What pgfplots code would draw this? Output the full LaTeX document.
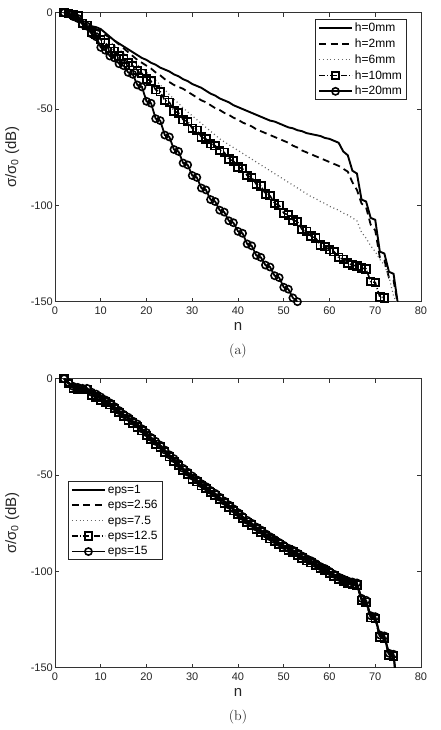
\documentclass[border=0pt]{standalone}
\usepackage{pgfplots}
\pgfplotsset{compat=1.18}
\usepackage{pgfplotstable}
\usepackage{fontspec}
\newfontfamily\lsans{Liberation Sans}
\newcommand\ticksfont{\lsans\fontsize{11}{13}\selectfont}
\newcommand\legfont{\lsans\fontsize{12}{14}\selectfont}
\newcommand\labfont{\lsans\fontsize{15}{17}\selectfont}

% (a) RCS decay versus mode number n for several heights h
\pgfplotstableread{
n   h0     h2     h6     h10    h20
2   0      0      0      0      0
3   -1     -1     -1     -0.5   -0.5
4   -2.5   -2.5   -2     -1     -2
5   -4     -4     -3.5   -1.5   -3
6   -5.5   -5.5   -5     -5.5   -6
7   -6.5   -6.5   -6.5   -6.5   -7
8   -7     -7.5   -8     -10    -11
9   -7.5   -8.5   -9.5   -11    -12.5
10  -8.5   -10    -11.5  -14    -18
11  -10.5  -11.5  -13.5  -15.5  -19.5
12  -12.5  -13    -15    -18.5  -22.5
13  -14.5  -14.5  -17    -20    -23.5
14  -16    -16.5  -19    -22.5  -26.5
15  -17.5  -18.5  -21    -24    -27.5
16  -19    -20.5  -23    -26    -31
17  -20.5  -22.5  -25    -27.5  -32
18  -22    -24.5  -27    -30    -37.5
19  -23.5  -26    -29    -31.5  -38.5
20  -24.5  -27.5  -31    -34.5  -46
21  -26    -29    -33    -35.5  -47
22  -27    -31    -35    -40    -55
23  -28.5  -32.5  -37.5  -41    -56
24  -29.5  -34.5  -40    -45.5  -63.5
25  -30.5  -36    -42.5  -46.5  -64.5
26  -32    -37.5  -45    -51    -71
27  -33    -38.5  -47    -52    -72
28  -34.5  -39.5  -49.5  -55.5  -78
29  -35.5  -41    -51.5  -56.5  -79
30  -37    -42.5  -53.5  -60    -84.5
31  -38    -44    -55.5  -61    -85.5
32  -39    -45.5  -57.5  -64.5  -91
33  -40.5  -46.5  -59.5  -65.5  -92
34  -42    -48    -61.5  -68    -97
35  -43    -49.5  -63.5  -69    -98
36  -44.5  -50.5  -65.5  -71.5  -102.5
37  -45.5  -52    -67    -72.5  -103.5
38  -46.5  -53    -68.5  -76    -108
39  -48    -54.5  -70    -77    -109
40  -49    -55.5  -71.5  -80    -113.5
41  -50    -57    -73    -81    -114.5
42  -51    -58    -74.5  -84.5  -120
43  -52    -59    -76    -85.5  -121
44  -53    -60.5  -77.5  -89    -126
45  -54    -61.5  -79    -90    -127
46  -55    -62.5  -80.5  -94    -131
47  -56    -63.5  -82    -95    -132
48  -56.5  -64.5  -83.5  -99    -136.5
49  -57.5  -65.5  -85    -100   -137.5
50  -58.5  -66.5  -86.5  -104   -142.5
51  -59.5  -67.5  -88    -105   -143.5
52  -60    -69    -89.5  -107.5 -148
53  -61    -70    -91    -108.5 -150
54  -61.5  -71.5  -92.5  -112.5 nan
55  -62.5  -72.5  -94    -113.5 nan
56  -63    -73.5  -95.5  -116   nan
57  -63.5  -74.5  -96.5  -117   nan
58  -64    -75.5  -98    -120.5 nan
59  -65    -76.5  -99    -121.5 nan
60  -65.5  -77.5  -100.5 -123   nan
61  -66.5  -78.5  -101.5 -124   nan
62  -67.5  -79.5  -102.5 -127   nan
63  -72    -81    -104   -128   nan
64  -74    -82.5  -105   -130   nan
65  -82    -88    -106.5 -131   nan
66  -83.5  -92    -108   -131.5 nan
67  -97    -99    -114   -132.5 nan
68  -98    -101   -117   -133   nan
69  -106.5 -110   -121   -139.5 nan
70  -107.5 -113   -124   -140   nan
71  -124   -127   -128   -147.5 nan
72  -125   -128.5 -131   -148   nan
73  -134.5 -137.5 -137   nan    nan
74  -135.5 -139   -147   nan    nan
75  -152   -152   -152   nan    nan
}\tabH

% (b) RCS decay versus mode number n for several permittivities
\pgfplotstableread{
n   e1     e2     e7     e12    e15
2   0      0      0      0      0
3   -2.5   -2.5   -2.0   -2.5   -2.0
4   -4.5   -4.5   -4.0   -5.0   -4.0
5   -5.0   -5.0   -5.0   -5.5   -4.5
6   -5.0   -5.5   -5.0   -5.5   -5.0
7   -5.0   -5.5   -5.0   -5.5   -5.0
8   -7.5   -8.0   -7.5   -8.5   -7.0
9   -8.5   -9.0   -8.5   -9.5   -8.0
10  -10.0  -10.5  -10.0  -11.0  -9.5
11  -11.5  -12.0  -11.5  -12.0  -11.0
12  -13.0  -13.5  -13.0  -13.5  -12.5
13  -15.0  -15.5  -15.0  -15.5  -14.5
14  -17.0  -17.5  -17.0  -17.5  -16.5
15  -19.0  -19.5  -19.0  -19.5  -18.5
16  -20.5  -21.0  -20.5  -21.5  -20.0
17  -22.5  -23.0  -22.5  -23.0  -22.0
18  -24.0  -24.5  -24.0  -25.0  -23.5
19  -26.5  -27.0  -26.5  -27.0  -26.0
20  -28.5  -29.0  -28.5  -29.5  -28.0
21  -31.0  -31.5  -31.0  -31.5  -30.5
22  -33.0  -33.5  -33.0  -34.0  -32.5
23  -35.0  -35.5  -35.0  -35.5  -34.5
24  -37.5  -38.0  -37.5  -38.0  -37.0
25  -40.0  -40.5  -40.0  -40.5  -39.5
26  -42.0  -42.5  -42.0  -43.0  -41.5
27  -44.5  -45.0  -44.5  -45.0  -44.0
28  -47.0  -47.5  -47.0  -47.5  -46.5
29  -49.0  -49.5  -49.0  -49.5  -48.5
30  -51.0  -51.5  -51.0  -52.0  -50.5
31  -53.0  -53.5  -53.0  -53.5  -52.5
32  -55.0  -55.5  -55.0  -55.5  -54.5
33  -56.5  -57.0  -56.5  -57.0  -56.0
34  -58.5  -59.0  -58.5  -59.0  -58.0
35  -60.0  -60.5  -60.0  -60.5  -59.5
36  -62.0  -62.5  -62.0  -62.5  -61.5
37  -64.0  -64.5  -64.0  -64.5  -63.5
38  -66.0  -66.5  -66.0  -66.5  -65.5
39  -68.0  -68.5  -68.0  -68.5  -67.5
40  -70.0  -70.5  -70.0  -70.5  -69.5
41  -72.0  -72.5  -72.0  -72.5  -71.5
42  -74.0  -74.5  -74.0  -74.5  -73.5
43  -75.5  -76.0  -75.5  -76.0  -75.0
44  -77.5  -78.0  -77.5  -78.0  -77.0
45  -79.0  -79.5  -79.0  -79.5  -78.5
46  -81.0  -81.5  -81.0  -81.5  -80.5
47  -82.5  -83.0  -82.5  -83.0  -82.0
48  -84.0  -84.5  -84.0  -84.5  -83.5
49  -85.5  -86.0  -85.5  -86.0  -85.0
50  -87.0  -87.5  -87.0  -87.5  -86.5
51  -88.5  -89.0  -88.5  -89.0  -88.0
52  -89.5  -90.0  -89.5  -90.0  -89.0
53  -91.0  -91.5  -91.0  -91.5  -90.5
54  -92.5  -93.0  -92.5  -93.0  -92.0
55  -94.0  -94.5  -94.0  -94.5  -93.5
56  -95.0  -95.5  -95.0  -95.5  -94.5
57  -96.5  -97.0  -96.5  -97.0  -96.0
58  -98.0  -98.5  -98.0  -98.5  -97.5
59  -99.0  -99.5  -99.0  -99.5  -98.5
60  -100.5 -101.0 -100.5 -101.0 -100.0
61  -102.0 -102.5 -102.0 -102.5 -101.5
62  -103.5 -104.0 -103.5 -104.0 -103.0
63  -104.5 -105.0 -104.5 -105.0 -104.0
64  -105.5 -106.0 -105.5 -106.0 -105.0
65  -106.0 -106.5 -106.0 -106.5 -105.5
66  -106.5 -107.0 -106.5 -107.0 -106.0
67  -114.5 -115.0 -114.5 -115.0 -114.0
68  -115.5 -116.0 -115.5 -116.0 -115.0
69  -123.5 -124.0 -123.5 -124.0 -123.0
70  -124.0 -124.5 -124.0 -124.5 -123.5
71  -133.5 -134.0 -133.5 -134.0 -133.0
72  -134.0 -134.5 -134.0 -134.5 -133.5
73  -143.0 -143.5 -143.0 -143.5 -142.5
74  -143.5 -144.0 -143.5 -144.0 -143.0
75  -165   -165   -165   -165   -165
}\tabE

\pgfplotsset{
  sol/.style={black, line width=1.9pt, solid},
  dsh/.style={black, line width=1.8pt, dash pattern=on 7pt off 4.5pt},
  dtt/.style={black!60, line width=1.2pt, dash pattern=on 1pt off 2.8pt},
  sqr/.style={black, line width=1.6pt, dash pattern=on 6pt off 2pt on 1pt off 2pt,
    mark=square, mark size=3.8pt, mark options={solid, line width=1.8pt}},
  cir/.style={black, line width=1.8pt, solid,
    mark=o, mark size=3.6pt, mark options={solid, line width=1.6pt}},
  panel/.style={
    scale only axis, width=366pt, height=289pt,
    xmin=0, xmax=80, ymin=-150, ymax=0,
    xtick={0,10,...,80}, ytick={-150,-100,-50,0},
    yticklabels={-150,-100,-50,0},
    tick align=inside, major tick length=4pt,
    axis line style={black!80, line width=0.8pt},
    tick style={black!80, line width=0.7pt},
    tick label style={font=\ticksfont, text=black!85},
    /pgf/number format/assume math mode=true,
    xticklabel style={yshift=-1.5pt},
    yticklabel style={inner xsep=2pt},
    xlabel={n},
    ylabel={σ/σ\textsubscript{0} (dB)},
    xlabel style={at={(axis description cs:0.5,-0.0865)}, anchor=center,
      inner sep=0pt, font=\labfont, text=black!85},
    ylabel style={at={(axis description cs:-0.117,0.5)}, anchor=center,
      inner sep=0pt, font=\labfont, text=black!85},
    legend cell align=left,
    legend style={font=\legfont, draw=black!85, line width=1pt,
      inner xsep=2.5pt, inner ysep=1.5pt, row sep=1.6pt},
    legend image code/.code={
      \draw[mark repeat=2, mark phase=2, #1]
        plot coordinates {(0pt,0pt) (16.5pt,0pt) (33pt,0pt)};},
  }
}

\begin{document}
\begin{tikzpicture}
\path[use as bounding box] (0pt,0pt) rectangle (440pt,-730pt);

\begin{axis}[panel, at={(55pt,-301.7pt)}, anchor=south west,
  legend style={at={(rel axis cs:0.9617,0.978)}, anchor=north east}]
  \addplot[sol] table[x=n, y=h0] {\tabH};
  \addlegendentry{h=0mm}
  \addplot[dsh] table[x=n, y=h2] {\tabH};
  \addlegendentry{h=2mm}
  \addplot[dtt] table[x=n, y=h6] {\tabH};
  \addlegendentry{h=6mm}
  \addplot[sqr] table[x=n, y=h10] {\tabH};
  \addlegendentry{h=10mm}
  \addplot[cir] table[x=n, y=h20] {\tabH};
  \addlegendentry{h=20mm}
\end{axis}

\begin{axis}[panel, at={(55pt,-667.7pt)}, anchor=south west,
  legend style={at={(rel axis cs:0.0355,0.646)}, anchor=north west}]
  \addplot[sol] table[x=n, y=e1] {\tabE};
  \addlegendentry{eps=1}
  \addplot[dsh] table[x=n, y=e2] {\tabE};
  \addlegendentry{eps=2.56}
  \addplot[dtt] table[x=n, y=e7] {\tabE};
  \addlegendentry{eps=7.5}
  \addplot[sqr] table[x=n, y=e12] {\tabE};
  \addlegendentry{eps=12.5}
  \addplot[cir] table[x=n, y=e15] {\tabE};
  \addlegendentry{eps=15}
\end{axis}

\node[font=\fontsize{14}{16}\selectfont, text=black!85] at (238pt,-350.7pt) {(a)};
\node[font=\fontsize{14}{16}\selectfont, text=black!85] at (238pt,-716.7pt) {(b)};
\end{tikzpicture}
\end{document}
